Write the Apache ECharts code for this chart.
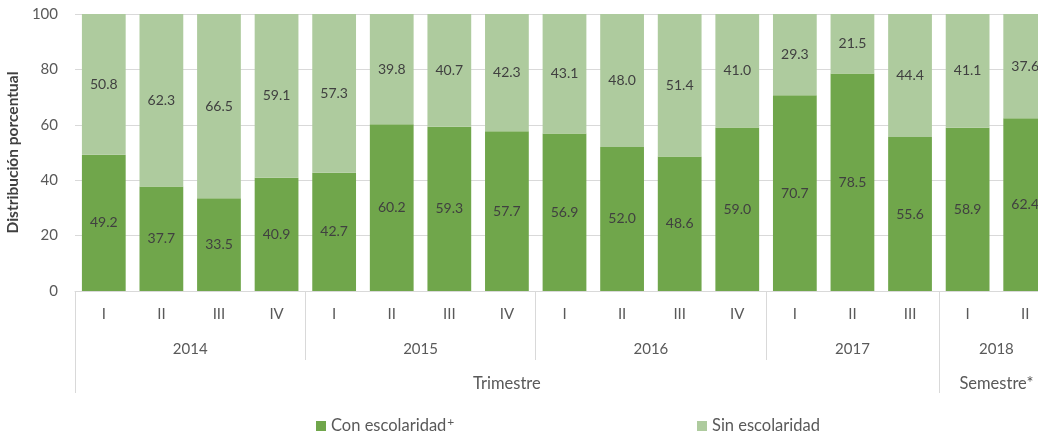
<!DOCTYPE html>
<html>
<head>
<meta charset="utf-8">
<script src="https://cdn.jsdelivr.net/npm/echarts@6/dist/echarts.min.js"></script>
<style>
html,body{margin:0;padding:0;background:#fff;}
#main{width:1038px;height:431px;}
</style>
</head>
<body>
<div id="main"></div>
<script>
// datos
var periodos = ['I','II','III','IV','I','II','III','IV','I','II','III','IV','I','II','III','I','II'];
var conEscolaridad = [49.2,37.7,33.5,40.9,42.7,60.2,59.3,57.7,56.9,52.0,48.6,59.0,70.7,78.5,55.6,58.9,62.4];
var sinEscolaridad = [50.8,62.3,66.5,59.1,57.3,39.8,40.7,42.3,43.1,48.0,51.4,41.0,29.3,21.5,44.4,41.1,37.6];
var anios = ['2014','2015','2016','2017','2018'];
var aniosInicio = [0,4,8,12,15,17];     // limites de grupo (en categorias)
var tipos = ['Trimestre','Semestre*'];
var tiposInicio = [0,15,17];
var yTicks = [0,20,40,60,80,100];

var FONT = 'Lato';
var gris = '#595959';
var linea = '#d9d9d9';

function centros(lim){
    var c = [];
    for(var i=0;i<lim.length-1;i++) c.push((lim[i]+lim[i+1])/2);
    return c;
}
var aniosCentro = centros(aniosInicio);
var tiposCentro = centros(tiposInicio);

var myChart = echarts.init(document.getElementById('main'));

var option = {
    animation:false,
    textStyle:{fontFamily:FONT},
    grid:{left:75,right:-16,top:14,bottom:140,outerBoundsMode:'none',containLabel:false},
    legend:[{
        data:['Con escolaridad'],
        left:311, top:411,
        icon:'rect', itemWidth:10, itemHeight:10, itemGap:0,
        formatter:function(n){ return '{a|' + n + '}{s|+}'; },
        textStyle:{color:gris,fontSize:16.5,fontFamily:FONT,
            rich:{a:{color:gris,fontSize:16.5,fontFamily:FONT,lineHeight:20},
                  s:{color:gris,fontSize:12,fontFamily:FONT,verticalAlign:'top',padding:[0,0,0,1]}}}
    },{
        data:['Sin escolaridad'],
        left:692, top:411,
        icon:'rect', itemWidth:10, itemHeight:10,
        textStyle:{color:gris,fontSize:16.5,fontFamily:FONT,lineHeight:20}
    }],
    xAxis:[{
        type:'category',
        data:periodos,
        axisLine:{lineStyle:{color:linea}},
        axisTick:{show:false},
        axisLabel:{color:gris,fontSize:15,margin:16,fontFamily:FONT}
    },{
        type:'value', min:0, max:17, position:'bottom',
        axisLine:{show:false},
        splitLine:{show:false},
        axisTick:{show:true,inside:false,length:69,customValues:aniosInicio,lineStyle:{color:linea}},
        axisLabel:{color:gris,fontSize:15,margin:51,fontFamily:FONT,customValues:aniosCentro,
            formatter:function(v){ return anios[aniosCentro.indexOf(v)]; }}
    },{
        type:'value', min:0, max:17, position:'bottom',
        axisLine:{show:false},
        splitLine:{show:false},
        axisTick:{show:true,inside:false,length:102,customValues:tiposInicio,lineStyle:{color:linea}},
        axisLabel:{color:gris,fontSize:16.5,margin:84,fontFamily:FONT,customValues:tiposCentro,
            formatter:function(v){ return tipos[tiposCentro.indexOf(v)]; }}
    }],
    yAxis:{
        type:'value', min:yTicks[0], max:yTicks[yTicks.length-1], interval:20,
        name:'Distribución porcentual',
        nameLocation:'middle', nameGap:47, nameRotate:90,
        nameTextStyle:{color:'#404040',fontWeight:'bold',fontSize:15.5,fontFamily:FONT},
        axisLine:{show:false}, axisTick:{show:false},
        axisLabel:{color:gris,fontSize:15,margin:17,fontFamily:FONT},
        splitLine:{lineStyle:{color:linea}}
    },
    series:[{
        name:'Con escolaridad',
        type:'bar', stack:'total',
        barCategoryGap:'24%',
        data:conEscolaridad,
        itemStyle:{color:'#70A64B'},
        label:{show:true,position:'inside',color:'#404040',fontSize:14,fontFamily:FONT,
            formatter:function(p){ return p.value.toFixed(1); }}
    },{
        name:'Sin escolaridad',
        type:'bar', stack:'total',
        barCategoryGap:'24%',
        data:sinEscolaridad,
        itemStyle:{color:'#AECB9E'},
        label:{show:true,position:'inside',color:'#404040',fontSize:14,fontFamily:FONT,
            formatter:function(p){ return p.value.toFixed(1); }}
    }]
};
myChart.setOption(option);
</script>
</body>
</html>
